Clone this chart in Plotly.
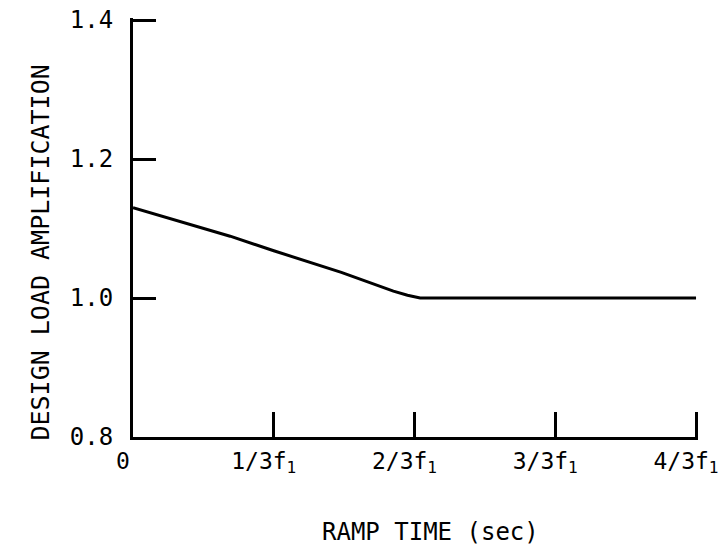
import plotly.graph_objects as go

# Ramp time in multiples of 1/(3 f1) and the matching design load amplification
ramp_time = [0, 0.12, 0.69, 1.0, 1.48, 1.85, 1.95, 2.04, 3.0, 4.0]
amplification = [1.13, 1.123, 1.089, 1.068, 1.037, 1.010, 1.004, 1.0, 1.0, 1.0]

x_tick_vals = [0, 1, 2, 3, 4]
x_tick_text = ["0", "1/3f<sub>1</sub>", "2/3f<sub>1</sub>", "3/3f<sub>1</sub>", "4/3f<sub>1</sub>"]
y_tick_vals = [0.8, 1.0, 1.2, 1.4]

FONT = "DejaVu Sans Mono"

fig = go.Figure()
fig.add_trace(go.Scatter(
    x=ramp_time, y=amplification, mode="lines",
    line=dict(color="black", width=3), showlegend=False,
))

# far ends padded by ~2 px so the last ticks are still drawn
fig.update_xaxes(
    range=[0, 4.014], tickvals=x_tick_vals, ticktext=x_tick_text,
    ticks="inside", ticklen=25, tickwidth=3, tickcolor="black",
    showline=True, linecolor="black", linewidth=3,
    showgrid=False, zeroline=False, automargin=False,
    tickfont=dict(family=FONT, size=23, color="black"),
    ticklabelstandoff=1, ticklabelshift=-10,
)
fig.update_yaxes(
    range=[0.8, 1.403], tickvals=y_tick_vals, tickformat=".1f",
    ticks="inside", ticklen=23, tickwidth=3, tickcolor="black",
    showline=True, linecolor="black", linewidth=3,
    showgrid=False, zeroline=False, automargin=False,
    tickfont=dict(family=FONT, size=24, color="black"),
    ticklabelstandoff=12,
)

fig.add_annotation(
    text="DESIGN LOAD AMPLIFICATION", textangle=-90,
    xref="paper", yref="paper", x=-0.163, y=0.44,
    xanchor="center", yanchor="middle",
    showarrow=False, font=dict(family=FONT, size=25, color="black"),
)
fig.add_annotation(
    text="RAMP TIME (sec)",
    xref="paper", yref="paper", x=0.526, y=-0.227,
    xanchor="center", yanchor="middle",
    showarrow=False, font=dict(family=FONT, size=24, color="black"),
)

fig.update_layout(
    width=719, height=551,
    margin=dict(l=133, r=21, t=18, b=114),
    plot_bgcolor="white", paper_bgcolor="white",
)

fig.write_html("out.html")
